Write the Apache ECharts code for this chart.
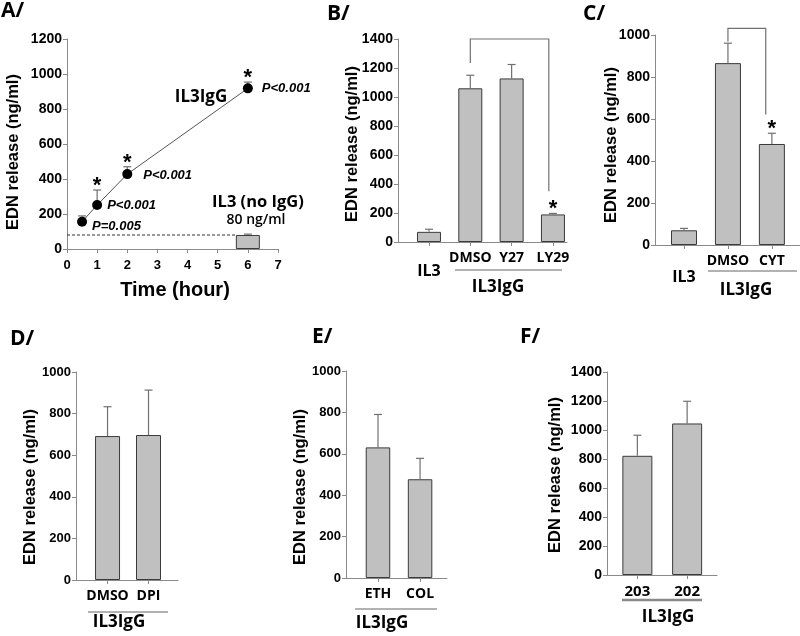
<!DOCTYPE html>
<html><head><meta charset="utf-8">
<script src="https://cdn.jsdelivr.net/npm/echarts@6/dist/echarts.min.js"></script>
<style>html,body{margin:0;padding:0;background:#fff}#c{width:800px;height:636px}</style>
</head><body><div id="c"></div>
<script>
// ---------------- data ----------------
// Panel A (time course)
const timeA = [0.5, 1, 2, 6];
const meanA = [156, 251, 428, 918];
const errA = [189, 337, 470, 954];
const starA = [0, 1, 1, 1];
const pvalA = ['P=0.005', 'P<0.001', 'P<0.001', 'P<0.001'];
const il3TimeA = [6];
const il3MeanA = [80];
const il3ErrA = [85];
const baselineA = 80;
const baselineSpanA = [0, 5.6];
// Panel B
const catsB = ['IL3', 'DMSO', 'Y27', 'LY29'];
const meanB = [70, 1060, 1128, 190];
const errB = [88, 1150, 1224, 197];
const starB = [0, 0, 0, 1];
const bracketB = [1, 2.9, 1400, 1234, 350];
// Panel C
const catsC = ['IL3', 'DMSO', 'CYT'];
const meanC = [70, 866, 481];
const errC = [79, 961, 532];
const starC = [0, 0, 1];
const bracketC = [1, 1.86, 1032, 969, 622];
// Panel D
const catsD = ['DMSO', 'DPI'];
const meanD = [692, 697];
const errD = [833, 913];
// Panel E
const catsE = ['ETH', 'COL'];
const meanE = [631, 477];
const errE = [790, 578];
// Panel F
const catsF = ['203', '202'];
const meanF = [822, 1045];
const errF = [964, 1198];

// ---------------- styling ----------------
const SANS = "'Liberation Sans', Arial, sans-serif";
const CAL = "'Open Sans', sans-serif";
const AXC = '#8a8a8a';
const BARC = '#c0c0c0';
const EDGE = '#3a3a3a';
const ERRC = '#707070';

const grids = [
  {left: 67, top: 39, width: 211, height: 210},
  {left: 398, top: 39, width: 169, height: 203},
  {left: 655, top: 35, width: 145, height: 210},
  {left: 76, top: 372, width: 102, height: 208},
  {left: 346, top: 371, width: 101, height: 207},
  {left: 607, top: 372, width: 110, height: 203}
];

const numRich = {
  t14: {fontFamily: SANS, fontWeight: 'bold', fontSize: 14, color: '#000'},
  t13: {fontFamily: SANS, fontWeight: 'bold', fontSize: 13, color: '#000'}
};
function yAx(g, max, interval, fs) {
  const key = fs === 13 ? 't13' : 't14';
  return {type: 'value', gridIndex: g, min: 0, max: max, interval: interval,
    axisLine: {show: true, onZero: false, lineStyle: {color: AXC}},
    axisTick: {show: true, length: 4, lineStyle: {color: AXC}},
    splitLine: {show: false},
    axisLabel: {margin: 5, rich: numRich, formatter: v => '{' + key + '|' + String(v) + '}'}};
}
const richLab = {
  n: {fontFamily: CAL, fontWeight: 'bold', fontSize: 14, color: '#000'},
  f: {fontFamily: CAL, fontWeight: 'bold', fontSize: 15, color: '#000'},
  lo: {fontFamily: CAL, fontWeight: 'bold', fontSize: 16, color: '#000', padding: [12, 0, 0, 0]},
  lo2: {fontFamily: CAL, fontWeight: 'bold', fontSize: 16, color: '#000', padding: [15, 0, 0, 0]}
};
function xAx(g, min, max, cats, lowStyle, normStyle) {
  const idx = cats.map((_, i) => i);
  return {type: 'value', gridIndex: g, min: min, max: max,
    axisLine: {show: true, onZero: false, lineStyle: {color: AXC}},
    axisTick: {show: true, customValues: idx, length: 4, lineStyle: {color: AXC}},
    splitLine: {show: false},
    axisLabel: {customValues: idx, margin: 9, rich: richLab,
      formatter: function (v) {
        const i = Math.round(v);
        const name = cats[i];
        if (name === 'IL3' && lowStyle) return '{' + lowStyle + '|' + name + '}';
        return '{' + (normStyle || 'n') + '|' + name + '}';
      }}};
}

function barSeries(g, vals, w) {
  return {type: 'bar', xAxisIndex: g, yAxisIndex: g, barWidth: w, silent: true, z: 2,
    data: vals.map((v, i) => [i, v]),
    itemStyle: {color: BARC, borderColor: EDGE, borderWidth: 1}};
}
function errSeries(g, xs, means, errs, stars, starFont) {
  return {type: 'custom', xAxisIndex: g, yAxisIndex: g, silent: true, z: 4,
    data: xs.map((x, i) => [x, means[i], errs[i], stars ? stars[i] : 0]),
    encode: {x: 0, y: 2},
    renderItem: function (p, api) {
      const x = api.value(0), m = api.value(1), e = api.value(2), s = api.value(3);
      const a = api.coord([x, m]), b = api.coord([x, e]);
      const ch = [
        {type: 'line', shape: {x1: a[0], y1: a[1], x2: b[0], y2: b[1]}, style: {stroke: ERRC, lineWidth: 1.2}},
        {type: 'line', shape: {x1: b[0] - 4, y1: b[1], x2: b[0] + 4, y2: b[1]}, style: {stroke: ERRC, lineWidth: 1.2}}
      ];
      if (s) ch.push({type: 'text', x: b[0], y: b[1] - 4,
        style: {text: '*', font: starFont || ('bold 22px ' + SANS), fill: '#000',
          align: 'center', verticalAlign: 'middle', textAlign: 'center', textVerticalAlign: 'middle'}});
      return {type: 'group', children: ch};
    }};
}
function bracketSeries(g, br) {
  return {type: 'custom', xAxisIndex: g, yAxisIndex: g, silent: true, z: 3,
    data: [br], encode: {x: [0, 1], y: [2, 3, 4]},
    renderItem: function (p, api) {
      const x1 = api.value(0), x2 = api.value(1), top = api.value(2), yl = api.value(3), yr = api.value(4);
      const pts = [api.coord([x1, yl]), api.coord([x1, top]), api.coord([x2, top]), api.coord([x2, yr])];
      return {type: 'polyline', shape: {points: pts}, style: {stroke: ERRC, lineWidth: 1.2, fill: null}};
    }};
}

// ---------------- free text / group lines ----------------
const graphics = [];
function txt(t, x, y, font, opts) {
  const o = Object.assign({align: 'center', rot: 0}, opts || {});
  graphics.push({type: 'text', x: x, y: y, rotation: o.rot, silent: true,
    style: {text: t, font: font, fill: '#000', align: o.align, verticalAlign: 'middle',
      textAlign: o.align, textVerticalAlign: 'middle'}});
}
function hline(x1, x2, y, w, c) {
  graphics.push({type: 'line', silent: true, shape: {x1: x1, y1: y, x2: x2, y2: y},
    style: {stroke: c || '#666', lineWidth: w || 1.2}});
}
const letterFont = 'bold 21px ' + CAL;
txt('A/', 1, 11, letterFont, {align: 'left'});
txt('B/', 327, 14, letterFont, {align: 'left'});
txt('C/', 583, 14, letterFont, {align: 'left'});
txt('D/', 10, 339, letterFont, {align: 'left'});
txt('E/', 312, 337, letterFont, {align: 'left'});
txt('F/', 520, 337, letterFont, {align: 'left'});
const yTitle = 'EDN release (ng/ml)';
const yFont = 'bold 16.5px ' + SANS;
[[13, 152], [352, 144], [611, 145], [30, 487], [300, 487], [555, 475]].forEach(p =>
  txt(yTitle, p[0], p[1], yFont, {rot: Math.PI / 2}));
txt('Time (hour)', 175, 290, 'bold 20px ' + SANS);
txt('IL3IgG', 201, 97, 'bold 17px ' + CAL);
txt('IL3 (no IgG)', 258, 202, 'bold 16.5px ' + CAL);
txt('80 ng/ml', 256, 220, '600 14px ' + CAL);
const grpFont = 'bold 17px ' + CAL;
hline(455, 562, 270); txt('IL3IgG', 498, 287, grpFont);
hline(708, 797, 271); txt('IL3IgG', 746, 290, grpFont);
hline(88, 168, 612); txt('IL3IgG', 119, 622, grpFont);
hline(355, 437, 609); txt('IL3IgG', 382, 623, grpFont);
hline(622, 702, 600, 2.5, '#8a8a8a'); txt('IL3IgG', 668, 617, grpFont);

// ---------------- option ----------------
const pOffsets = [[0, 5], [0, 0], [6, 1], [4, 0]];
const option = {
  animation: false,
  backgroundColor: '#fff',
  grid: grids,
  xAxis: [
    {type: 'value', gridIndex: 0, min: 0, max: 7, interval: 1,
      axisLine: {show: true, onZero: false, lineStyle: {color: AXC}},
      axisTick: {show: true, length: 4, lineStyle: {color: AXC}},
      splitLine: {show: false},
      axisLabel: {margin: 10, rich: numRich, formatter: v => '{t13|' + String(v) + '}'}},
    xAx(1, -0.75, 3.34, catsB, 'lo'),
    xAx(2, -0.66, 2.64, catsC, 'lo2'),
    xAx(3, -0.77, 1.72, catsD),
    xAx(4, -0.76, 1.64, catsE),
    xAx(5, -0.61, 1.60, catsF, null, 'f')
  ],
  yAxis: [
    yAx(0, 1200, 200), yAx(1, 1400, 200), yAx(2, 1000, 200),
    yAx(3, 1000, 200, 13), yAx(4, 1000, 200, 13), yAx(5, 1400, 200)
  ],
  series: [
    // A
    {type: 'line', xAxisIndex: 0, yAxisIndex: 0, symbol: 'none', silent: true, z: 1,
      data: baselineSpanA.map(x => [x, baselineA]),
      lineStyle: {type: [3, 2], color: '#333', width: 1}},
    {type: 'bar', xAxisIndex: 0, yAxisIndex: 0, barWidth: 24, silent: true, z: 2,
      data: il3TimeA.map((t, i) => [t, il3MeanA[i]]),
      itemStyle: {color: BARC, borderColor: EDGE, borderWidth: 1}},
    errSeries(0, il3TimeA, il3MeanA, il3ErrA, null),
    errSeries(0, timeA, meanA, errA, starA),
    {type: 'line', xAxisIndex: 0, yAxisIndex: 0, silent: true, z: 5,
      symbol: 'circle', symbolSize: 10,
      data: timeA.map((t, i) => ({value: [t, meanA[i]], label: {formatter: pvalA[i], offset: pOffsets[i]}})),
      itemStyle: {color: '#000'}, lineStyle: {color: '#555', width: 1},
      label: {show: true, position: 'right', color: '#000', fontFamily: SANS,
        fontStyle: 'italic', fontWeight: 'bold', fontSize: 13}},
    // B
    barSeries(1, meanB, 24),
    errSeries(1, meanB.map((_, i) => i), meanB, errB, starB),
    bracketSeries(1, bracketB),
    // C
    barSeries(2, meanC, 26),
    errSeries(2, meanC.map((_, i) => i), meanC, errC, starC),
    bracketSeries(2, bracketC),
    // D
    barSeries(3, meanD, 25),
    errSeries(3, meanD.map((_, i) => i), meanD, errD, null),
    // E
    barSeries(4, meanE, 24.5),
    errSeries(4, meanE.map((_, i) => i), meanE, errE, null),
    // F
    barSeries(5, meanF, 30),
    errSeries(5, meanF.map((_, i) => i), meanF, errF, null)
  ],
  graphic: graphics
};
const chart = echarts.init(document.getElementById('c'), null, {renderer: 'canvas'});
chart.setOption(option);
</script>
</body></html>
